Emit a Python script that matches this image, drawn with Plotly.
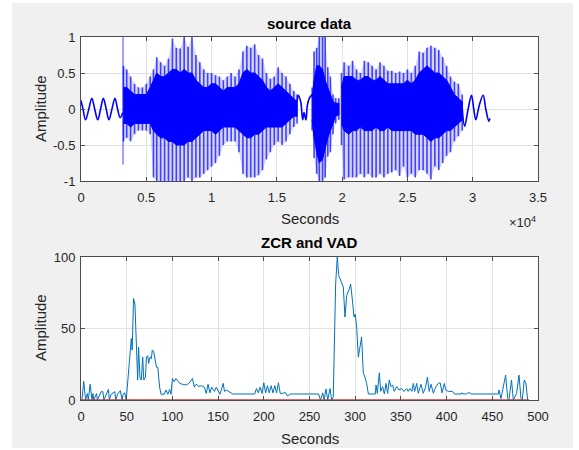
import plotly.graph_objects as go

# ---------------- top panel: source waveform (read as envelopes) ----------------
env_x = [3250, 3500, 3800, 4100, 4400, 4700, 5000, 5300, 5550, 5800, 6100, 6400, 6700, 7000,
         7300, 7600, 7900, 8200, 8500, 8800, 9100, 9400, 9700, 10000, 10300, 10600, 10900,
         11200, 11500, 11800, 12100, 12400, 12700, 13000, 13300, 13600, 13900, 14200, 14500,
         14800, 15100, 15400, 15700, 16000, 16300, 16550,
         17700, 17850, 18050, 18250, 18500, 18700, 18900, 19100, 19300, 19500, 19750,
         19950, 20150, 20500, 20800, 21100, 21400, 21700, 22000, 22300, 22600, 22900, 23200,
         23500, 23800, 24100, 24400, 24700, 25000, 25300, 25600, 25900, 26200, 26500, 26800,
         27100, 27400, 27700, 28000, 28300, 28600, 28900, 29200]
env_hi = [0.6, 0.55, 0.45, 0.35, 0.3, 0.3, 0.35, 0.45, 0.55, 0.72, 0.65, 0.6, 0.7, 0.98,
          0.85, 0.84, 1.0, 0.86, 1.0, 0.75, 0.65, 0.55, 0.5, 0.5, 0.47, 0.45, 0.4,
          0.45, 0.5, 0.45, 0.55, 0.8, 0.88, 0.85, 0.9, 0.75, 0.7, 0.5, 0.42,
          0.45, 0.58, 0.5, 0.45, 0.35, 0.25, 0.2,
          0.3, 0.8, 0.85, 1.0, 1.0, 1.0, 0.58, 0.45, 0.2, 0.15, 0.15,
          0.5, 0.65, 0.6, 0.67, 0.55, 0.5, 0.67, 0.65, 0.6, 0.55, 0.65, 0.6,
          0.53, 0.53, 0.5, 0.52, 0.5, 0.55, 0.5, 0.6, 0.8, 0.78, 0.85, 0.88,
          0.85, 0.82, 0.72, 0.6, 0.45, 0.38, 0.35, 0.2]
env_lo = [-0.45, -0.4, -0.45, -0.35, -0.3, -0.3, -0.3, -0.35, -0.95, -1.0, -1.0, -1.0, -1.0, -1.0,
          -1.0, -1.0, -1.0, -0.95, -1.0, -0.95, -0.95, -0.9, -0.85, -0.8, -0.75, -0.65, -0.5,
          -0.45, -0.45, -0.45, -0.6, -0.9, -0.95, -0.95, -0.95, -0.92, -0.85, -0.7, -0.6,
          -0.5, -0.45, -0.5, -0.45, -0.35, -0.25, -0.2,
          -0.3, -0.68, -0.9, -1.0, -1.0, -0.95, -0.66, -0.6, -0.35, -0.2, -0.15,
          -0.5, -0.98, -0.95, -0.95, -0.95, -0.9, -0.95, -0.9, -0.95, -0.95, -0.9, -0.95,
          -0.9, -0.88, -0.85, -0.93, -0.8, -0.95, -0.9, -0.95, -0.85, -0.85, -0.9, -0.98,
          -0.8, -0.85, -0.75, -0.65, -0.6, -0.45, -0.38, -0.3]
core_hi = [0.3, 0.3, 0.25, 0.2, 0.2, 0.2, 0.2, 0.3, 0.4, 0.5, 0.45, 0.45, 0.5, 0.55,
           0.55, 0.5, 0.55, 0.5, 0.5, 0.4, 0.35, 0.3, 0.3, 0.35, 0.35, 0.3, 0.25,
           0.3, 0.3, 0.3, 0.35, 0.5, 0.55, 0.5, 0.5, 0.45, 0.4, 0.3, 0.25,
           0.3, 0.35, 0.3, 0.25, 0.2, 0.15, 0.1,
           0.15, 0.4, 0.6, 0.6, 0.55, 0.4, 0.3, 0.2, 0.1, 0.08, 0.08,
           0.3, 0.45, 0.45, 0.45, 0.4, 0.4, 0.45, 0.45, 0.4, 0.4, 0.45, 0.4,
           0.35, 0.35, 0.35, 0.35, 0.35, 0.4, 0.35, 0.4, 0.5, 0.55, 0.6, 0.55,
           0.5, 0.5, 0.45, 0.4, 0.3, 0.2, 0.15, 0.1]
core_lo = [-0.2, -0.2, -0.25, -0.2, -0.2, -0.2, -0.2, -0.2, -0.3, -0.35, -0.4, -0.4, -0.45, -0.45,
           -0.5, -0.5, -0.5, -0.45, -0.45, -0.4, -0.35, -0.3, -0.3, -0.3, -0.35, -0.3, -0.25,
           -0.25, -0.25, -0.25, -0.3, -0.35, -0.4, -0.4, -0.35, -0.35, -0.3, -0.25, -0.25,
           -0.25, -0.25, -0.25, -0.2, -0.15, -0.1, -0.1,
           -0.15, -0.4, -0.6, -0.75, -0.7, -0.55, -0.4, -0.3, -0.2, -0.1, -0.08,
           -0.2, -0.3, -0.35, -0.3, -0.3, -0.25, -0.3, -0.3, -0.3, -0.25, -0.3, -0.3,
           -0.25, -0.3, -0.3, -0.3, -0.3, -0.3, -0.3, -0.35, -0.35, -0.35, -0.4, -0.45,
           -0.4, -0.4, -0.35, -0.3, -0.3, -0.25, -0.2, -0.15]
burst_starts = [3250, 17700, 19950]

# quiet (low-amplitude) stretches of the waveform
head_x = [0, 150, 350, 600, 830, 1050, 1280, 1500, 1710, 1930, 2140, 2370, 2600, 2800, 3000, 3200]
head_y = [0.12, 0.0, -0.15, 0.0, 0.15, 0.0, -0.15, 0.0, 0.15, 0.0, -0.15, 0.0, 0.15, 0.0, -0.12, -0.05]
mid_x = [16550, 16645, 16825, 16980, 17080, 17230, 17335, 17490, 17700]
mid_y = [0.1, 0.19, 0.1, -0.15, -0.05, -0.15, 0.05, 0.15, 0.2]
tail_x = [29200, 29380, 29650, 29910, 30080, 30240, 30500, 30800, 31000, 31240, 31320]
tail_y = [0.0, -0.24, 0.0, 0.19, 0.0, -0.15, 0.05, 0.19, 0.0, -0.17, -0.13]
onset_x = [3220, 3220]
onset_y = [1.0, -0.77]

top_tickvals = [0, 5000, 10000, 15000, 20000, 25000, 30000, 35000]
top_ticktext = ["0", "0.5", "1", "1.5", "2", "2.5", "3", "3.5"]
amp_tickvals = [-1, -0.5, 0, 0.5, 1]
amp_ticktext = ["-1", "-0.5", "0", "0.5", "1"]

# ---------------- bottom panel: ZCR and VAD ----------------
zcr_frames = [1, 3, 5, 7, 8, 10, 12, 13, 14, 17, 18, 22, 24, 25, 30, 31, 33, 37, 38, 40, 43, 45, 46,
              48, 49.5, 52, 54, 55, 56, 57.5, 59, 60, 61, 62, 63, 64.5, 66, 67.5, 68.7, 70.5, 71.6,
              73, 74, 75.6, 77, 78, 79.6, 81, 82.5, 84, 86, 87.6, 91, 93, 95, 97, 98.5, 100, 102,
              104, 106, 108, 111, 115, 118, 122, 124, 126, 129, 132, 135, 137, 139, 141, 143, 146,
              148, 150, 152, 153.5, 155.5, 157, 159, 162, 166, 190, 192, 194, 196, 198, 200, 202,
              204, 206, 208, 210, 212, 214, 216, 218, 221, 223, 226, 229, 260, 262, 264.5, 266,
              268, 270, 272.4, 274.3, 276, 278.6, 280.4, 282, 283.4, 285.2, 287, 288.8, 290.7,
              293.2, 295, 296.9, 298.7, 300.1, 301.6, 303.4, 305.2, 307, 308.9, 310.7, 312.5,
              314.4, 322, 322.8, 324.2, 326.4, 327.9, 330, 331.9, 333.7, 335.5, 337.3, 339.2, 341,
              342.8, 345.4, 347.9, 350.8, 353.4, 356.3, 358, 360, 362, 363.6, 365, 367.3, 369, 372,
              374.5, 377, 379, 381, 383, 385.5, 388, 391, 393, 395, 397.5, 399, 402, 404, 406.5,
              408.5, 416, 416.5, 418, 422, 423, 425.5, 427, 456.6, 457.3, 459.5, 462, 464.6, 466.8,
              468.2, 471, 473, 476.6, 479.2, 481.4, 482.8, 485, 486.8, 488.7, 490]
zcr_values = [0, 13, 0, 4.5, 0, 11, 0, 4.5, 0, 4.5, 0, 5.8, 5.8, 0, 7.4, 0, 4, 5.8, 0, 4, 6.5, 0, 4,
              5, 0, 22, 35, 43, 35, 71, 67, 46.5, 28, 14, 37, 16, 14, 30, 14, 16, 30,
              31, 25.6, 30, 29, 35, 33.7, 28, 23, 23, 9, 4, 4, 7, 4, 7.4, 4, 15, 12.8,
              15, 12.8, 11.6, 11, 10.5, 11.6, 15, 9, 11, 9.5, 10, 9, 4.6, 11, 5, 9, 6,
              9, 6, 4, 7, 11.6, 6, 7, 5.8, 4.2, 4.2, 8, 5, 9, 4.6, 12, 5,
              10, 5, 10, 5, 10, 5, 12, 4.6, 4.6, 5.5, 2.8, 4.2, 4.2, 0, 5, 0,
              7.7, 0, 8, 0, 2, 81, 100, 87, 85, 82.5, 79, 58, 73,
              77, 81, 70, 58, 60, 51, 30, 37, 44, 18.6, 16, 11.6,
              4.2, 4.2, 10.5, 4.6, 19, 6, 9.3, 4.2, 11.6, 4.6, 14, 9.3, 10.5,
              6, 9.3, 7, 8, 6, 8, 6, 8, 6, 11.6, 6, 11.6, 4.7, 11,
              4.7, 9, 16, 6, 11, 4.7, 9, 11.7, 12, 5, 11.6, 7, 6, 5.8, 6,
              4.2, 4.2, 5, 4.2, 4.2, 5, 5, 4.2, 4.2, 7, 1, 9.3, 17.4, 1.2,
              0, 14, 0, 4.6, 17.4, 1, 0, 14, 11.6, 0, 0]
vad_frames = [0, 490]
vad_values = [0, 0]

bot_tickvals = [0, 50, 100, 150, 200, 250, 300, 350, 400, 450, 500]
zcr_tickvals = [0, 50, 100]

BLUE = "#0000ff"
fig = go.Figure()

# waveform bursts
bounds = burst_starts + [float("inf")]
for k in range(len(burst_starts)):
    idx = [i for i, x in enumerate(env_x) if bounds[k] <= x < bounds[k + 1]]
    sx = [env_x[i] for i in idx]
    hi = [env_hi[i] for i in idx]
    lo = [env_lo[i] for i in idx]
    ch = [core_hi[i] for i in idx]
    cl = [core_lo[i] for i in idx]
    fig.add_trace(go.Scatter(x=sx + sx[::-1], y=hi + lo[::-1], fill="toself",
                             fillcolor="rgba(0,0,255,0.16)", mode="lines",
                             line=dict(width=0), hoverinfo="skip", showlegend=False,
                             xaxis="x", yaxis="y"))
    strokes_x, strokes_y = [], []
    for x, a, b in zip(sx, lo, hi):
        strokes_x += [x, x, None]
        strokes_y += [a, b, None]
    fig.add_trace(go.Scatter(x=strokes_x, y=strokes_y, mode="lines",
                             line=dict(color="rgba(0,0,255,0.7)", width=1.6),
                             hoverinfo="skip", showlegend=False, xaxis="x", yaxis="y"))
    fig.add_trace(go.Scatter(x=sx + sx[::-1], y=ch + cl[::-1], fill="toself",
                             fillcolor=BLUE, mode="lines", line=dict(width=1, color=BLUE),
                             hoverinfo="skip", showlegend=False, xaxis="x", yaxis="y"))

for qx, qy in [(head_x, head_y), (mid_x, mid_y), (tail_x, tail_y)]:
    fig.add_trace(go.Scatter(x=qx, y=qy, mode="lines",
                             line=dict(color=BLUE, width=1.6, shape="spline"),
                             hoverinfo="skip", showlegend=False, xaxis="x", yaxis="y"))
fig.add_trace(go.Scatter(x=onset_x, y=onset_y, mode="lines",
                         line=dict(color="rgba(0,0,255,0.6)", width=1.2),
                         hoverinfo="skip", showlegend=False, xaxis="x", yaxis="y"))

# ZCR + VAD
fig.add_trace(go.Scatter(x=zcr_frames, y=zcr_values, mode="lines",
                         line=dict(color="#0072BD", width=1),
                         showlegend=False, xaxis="x2", yaxis="y2"))
fig.add_trace(go.Scatter(x=vad_frames, y=vad_values, mode="lines",
                         line=dict(color="#d03a3a", width=1.6),
                         showlegend=False, xaxis="x2", yaxis="y2"))

FONT = "Arial, Liberation Sans, sans-serif"
TXT = "#262626"
axis_common = dict(showline=True, linecolor="#4d4d4d", linewidth=1, mirror="ticks",
                   ticks="inside", ticklen=4, tickcolor="#4d4d4d", showgrid=True,
                   gridcolor="#e2e2e2", zeroline=False, automargin=False,
                   tickfont=dict(family=FONT, size=13, color=TXT))

W, H = 579, 450
L, R, T, B = 81, 41, 37, 50
ph = H - T - B
top_bottom_px = 181
bot_top_px = 257
fig.update_layout(
    width=W, height=H,
    margin=dict(l=L, r=R, t=T, b=B),
    paper_bgcolor="#ffffff", plot_bgcolor="#ffffff",
    font=dict(family=FONT, color=TXT),
    xaxis=dict(domain=[0, 1], anchor="y", range=[0, 35000], tickvals=top_tickvals,
               ticktext=top_ticktext, ticklabelstandoff=4, **axis_common),
    yaxis=dict(domain=[(H - B - top_bottom_px) / ph, 1], anchor="x", range=[-1, 1],
               tickvals=amp_tickvals, ticktext=amp_ticktext, ticklabelstandoff=2,
               **axis_common),
    xaxis2=dict(domain=[0, 1], anchor="y2", range=[0, 500], tickvals=bot_tickvals,
                ticklabelstandoff=4, **axis_common),
    yaxis2=dict(domain=[0, (H - B - bot_top_px) / ph], anchor="x2", range=[0, 100],
                tickvals=zcr_tickvals, ticklabelstandoff=2, **axis_common),
)

def px_x(p):
    return (p - L) / (W - L - R)

def px_y(p):
    return (H - B - p) / ph

# grey figure background (MATLAB window) and white axes faces
fig.add_shape(type="rect", xref="paper", yref="paper", x0=px_x(12), x1=px_x(573),
              y0=px_y(448), y1=px_y(3), fillcolor="#f0f0f0", line=dict(width=0), layer="below")
fig.add_shape(type="rect", xref="paper", yref="paper", x0=0, x1=1,
              y0=px_y(top_bottom_px), y1=1, fillcolor="#ffffff", line=dict(width=0), layer="below")
fig.add_shape(type="rect", xref="paper", yref="paper", x0=0, x1=1,
              y0=0, y1=px_y(bot_top_px), fillcolor="#ffffff", line=dict(width=0), layer="below")

def note(text, x, y, size, color=TXT, angle=0, xanchor="center"):
    fig.add_annotation(text=text, xref="paper", yref="paper", x=x, y=y, showarrow=False,
                       font=dict(family=FONT, size=size, color=color), textangle=angle,
                       xanchor=xanchor, yanchor="middle")

note("<b>source data</b>", 0.5, px_y(24), 15, "#000000")
note("<b>ZCR and VAD</b>", 0.5, px_y(243), 15, "#000000")
note("\u00d710<sup>4</sup>", 1.0, px_y(222), 13, xanchor="right")
note("Seconds", 0.5, px_y(219), 15)
note("Seconds", 0.5, px_y(438), 15)
note("Amplitude", px_x(40), px_y(109), 15, angle=-90)
note("Amplitude", px_x(40), px_y(328), 15, angle=-90)

fig.write_html("out.html", config={"displayModeBar": False},
               post_script="document.body.style.margin='0';")
